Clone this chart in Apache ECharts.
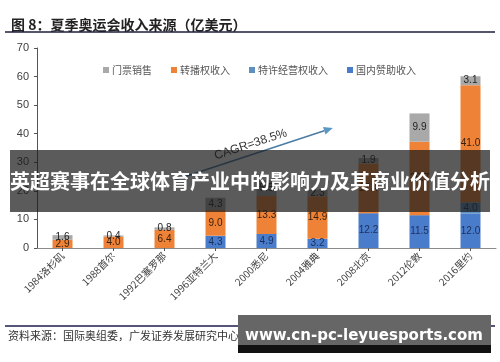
<!DOCTYPE html>
<html><head><meta charset="utf-8">
<script src="https://cdn.jsdelivr.net/npm/echarts@6/dist/echarts.min.js"></script>
<style>html,body{margin:0;padding:0;background:#fff}#c{width:500px;height:362px}</style>
</head><body><div id="c"></div>
<script>
var categories = ['1984洛杉矶','1988首尔','1992巴塞罗那','1996亚特兰大','2000悉尼','2004雅典','2008北京','2012伦敦','2016里约'];
var domesticSponsor = [null, null, null, 4.3, 4.9, 3.2, 12.2, 11.5, 12.0];
var licensing = [null, null, null, null, null, null, null, null, 4.0];
var broadcast = [2.9, 4.0, 6.4, 9.0, 13.3, 14.9, 17.4, 25.7, 41.0];
var ticketing = [1.6, 0.4, 0.8, 4.3, 5.5, 2.3, 1.9, 9.9, 3.1];
var yTicks = [0, 10, 20, 30, 40, 50, 60, 70];
var cagrText = 'CAGR=38.5%';
var cagrFrom = [2.2, 23.8];
var cagrTo = [5.3, 42];

var FONT = '"Noto Sans CJK SC", "Noto Sans", sans-serif';
var chart = echarts.init(document.getElementById('c'), null, {renderer: 'canvas'});

function lbl(color) {
  return {
    show: true, position: 'inside', fontSize: 10, color: color, fontFamily: 'Liberation Sans, Arial, sans-serif',
    formatter: function (p) { return p.value == null ? '' : p.value.toFixed(1); }
  };
}

chart.setOption({
  animation: false,
  title: {
    text: '图 8：夏季奥运会收入来源（亿美元）',
    left: 6, top: 13,
    textStyle: {fontSize: 14, fontWeight: 'bold', color: '#222', fontFamily: FONT}
  },
  legend: {
    data: ['门票销售', '转播权收入', '特许经营权收入', '国内赞助收入'],
    left: 98, top: 60, icon: 'rect', itemWidth: 6, itemHeight: 6, itemGap: 19,
    textStyle: {fontSize: 10, color: '#555', fontFamily: FONT, padding: [0, 0, 0, -2]}
  },
  grid: {left: 37, right: 4, top: 48, bottom: 114},
  xAxis: {
    type: 'category', data: categories,
    axisLine: {lineStyle: {color: '#8a8a8a'}},
    axisTick: {show: true, alignWithLabel: true, length: 3, lineStyle: {color: '#555'}},
    axisLabel: {rotate: 45, fontSize: 10, color: '#404040', margin: 6, fontFamily: FONT}
  },
  yAxis: {
    type: 'value', min: 0, max: 70, interval: 10,
    splitLine: {show: false},
    axisLine: {show: true, lineStyle: {color: '#555'}},
    axisTick: {show: true, length: 3, lineStyle: {color: '#555'}},
    axisLabel: {fontSize: 11, color: '#404040', margin: 8, fontFamily: 'Liberation Sans, Arial, sans-serif',
      formatter: function (v) { return yTicks.indexOf(v) >= 0 ? String(v) : ''; }}
  },
  series: [
    {name: '国内赞助收入', type: 'bar', stack: 's', barWidth: 20, data: domesticSponsor,
      itemStyle: {color: '#4a7ccc'}, label: lbl('#1c2f5a')},
    {name: '特许经营权收入', type: 'bar', stack: 's', barWidth: 20, data: licensing,
      itemStyle: {color: '#5f8fc0'}, label: lbl('#1c2f5a')},
    {name: '转播权收入', type: 'bar', stack: 's', barWidth: 20, data: broadcast,
      itemStyle: {color: '#ee8236'}, label: lbl('#3a2010')},
    {name: '门票销售', type: 'bar', stack: 's', barWidth: 20, data: ticketing,
      itemStyle: {color: '#a9a9a9'}, label: lbl('#222')}
  ]
});

function toPx(pt) {
  var i0 = Math.floor(pt[0]), f = pt[0] - i0;
  var a = chart.convertToPixel({gridIndex: 0}, [i0, pt[1]]);
  var b = chart.convertToPixel({gridIndex: 0}, [i0 + 1, pt[1]]);
  return [a[0] + (b[0] - a[0]) * f, a[1]];
}
var p1 = toPx(cagrFrom), p2 = toPx(cagrTo);
var ang = Math.atan2(p2[1] - p1[1], p2[0] - p1[0]);
var hl = 9, hw = 4;
var bx = p2[0] - hl * Math.cos(ang), by = p2[1] - hl * Math.sin(ang);
var head = [[p2[0], p2[1]], [bx + hw * Math.sin(ang), by - hw * Math.cos(ang)], [bx - hw * Math.sin(ang), by + hw * Math.cos(ang)]];
var mx = (p1[0] + p2[0]) / 2, my = (p1[1] + p2[1]) / 2;
var nx = Math.sin(ang) * 10, ny = -Math.cos(ang) * 10;

chart.setOption({
  graphic: [
    {type: 'line', shape: {x1: 5, y1: 32, x2: 495, y2: 32}, style: {stroke: '#1c1c3c', lineWidth: 1.5}, z: 10},
    {type: 'line', shape: {x1: 5, y1: 326, x2: 495, y2: 326}, style: {stroke: '#1c1c4c', lineWidth: 1.5}, z: 10},
    {type: 'text', left: 8, top: 330, style: {text: '资料来源：国际奥组委，广发证券发展研究中心', fontSize: 11, fill: '#333', fontFamily: FONT}, z: 10},
    {type: 'line', shape: {x1: p1[0], y1: p1[1], x2: bx, y2: by}, style: {stroke: '#4b7ca3', lineWidth: 1.5}, z: 20},
    {type: 'polygon', shape: {points: head}, style: {fill: '#5b97c3'}, z: 20},
    {type: 'text', x: mx + nx, y: my + ny, rotation: -ang,
      style: {text: cagrText, fontSize: 12, fill: '#333', align: 'center', verticalAlign: 'middle', fontFamily: 'Liberation Sans, Arial, sans-serif'}, z: 20},
    {type: 'rect', shape: {x: 10, y: 150, width: 480, height: 62}, style: {fill: 'rgba(28,28,28,0.72)'}, z: 100},
    {type: 'text', x: 250, y: 181, style: {text: '英超赛事在全球体育产业中的影响力及其商业价值分析', fontSize: 20, fontWeight: 'bold', fill: '#fff', align: 'center', verticalAlign: 'middle', fontFamily: FONT}, z: 101},
    {type: 'rect', shape: {x: 238, y: 315, width: 253, height: 30}, style: {fill: '#666'}, z: 100},
    {type: 'rect', shape: {x: 238, y: 345, width: 253, height: 8}, style: {fill: '#111'}, z: 100},
    {type: 'text', x: 364, y: 336, style: {text: 'www.cn-pc-leyuesports.com', fontSize: 15, fontWeight: 'bold', fill: '#fff', align: 'center', verticalAlign: 'middle', fontFamily: '"DejaVu Sans", sans-serif'}, z: 101}
  ]
});
</script></body></html>
